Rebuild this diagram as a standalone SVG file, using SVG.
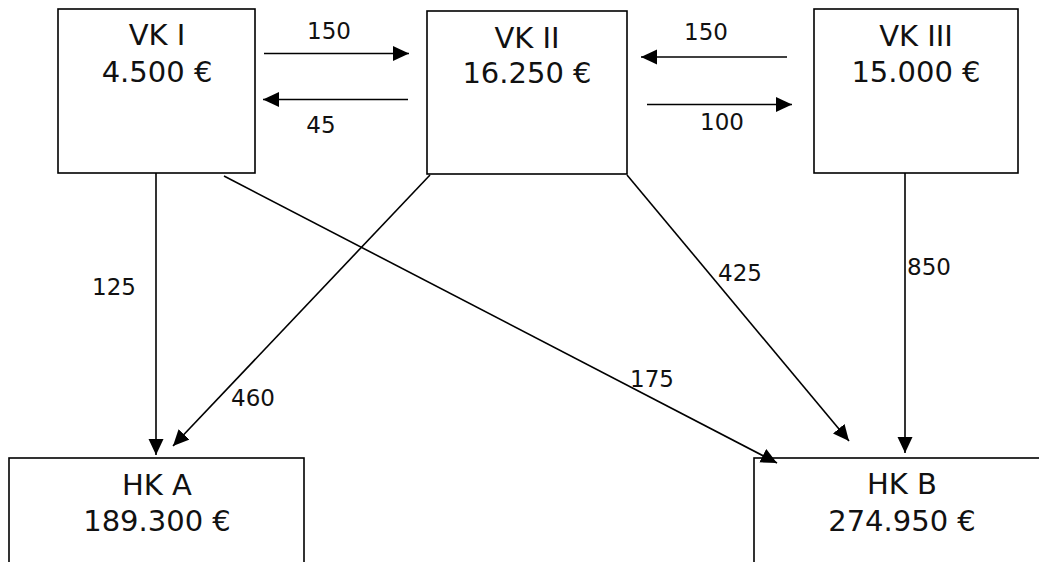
<svg xmlns="http://www.w3.org/2000/svg" width="1039" height="562" viewBox="0 0 1039 562">
<style>
.box{fill:#fff;stroke:#000;stroke-width:1.6}
.t{font-family:"DejaVu Sans","Verdana",sans-serif;font-size:29px;fill:#111;text-anchor:middle}
.l{font-family:"DejaVu Sans","Verdana",sans-serif;font-size:23px;fill:#111}
.c{stroke:#000;stroke-width:1.6;fill:none;marker-end:url(#ah)}
</style>
<defs>
<marker id="ah" markerUnits="userSpaceOnUse" markerWidth="17" markerHeight="16" refX="16" refY="7.5" orient="auto">
<path d="M0,0 L16,7.5 L0,15 z" fill="#000"/>
</marker>
</defs>
<rect width="1039" height="562" fill="#fff"/>
<g id="vk1"><rect class="box" x="58" y="9" width="197" height="164"/><text class="t" x="157" y="45">VK I</text><text class="t" x="157" y="82">4.500 €</text></g>
<g id="vk2"><rect class="box" x="427" y="11" width="200" height="163"/><text class="t" x="527" y="48">VK II</text><text class="t" x="527" y="83">16.250 €</text></g>
<g id="vk3"><rect class="box" x="814" y="9" width="204" height="164"/><text class="t" x="916" y="46">VK III</text><text class="t" x="916" y="82">15.000 €</text></g>
<g id="hka"><rect class="box" x="9" y="458" width="295" height="120"/><text class="t" x="157" y="495">HK A</text><text class="t" x="157" y="531">189.300 €</text></g>
<g id="hkb"><rect class="box" x="754" y="458" width="300" height="120"/><text class="t" x="902" y="494">HK B</text><text class="t" x="902" y="531">274.950 €</text></g>
<g id="connectors">
<line class="c" x1="264" y1="53.5" x2="409" y2="53.5"/>
<line class="c" x1="408" y1="99.5" x2="263" y2="99.5"/>
<line class="c" x1="787" y1="57" x2="641" y2="57"/>
<line class="c" x1="647" y1="104.5" x2="792" y2="104.5"/>
<line class="c" x1="156" y1="173" x2="156" y2="455"/>
<line class="c" x1="430" y1="175" x2="173" y2="446"/>
<line class="c" x1="224" y1="176" x2="777" y2="463"/>
<line class="c" x1="627" y1="175" x2="849" y2="441"/>
<line class="c" x1="905" y1="173" x2="905" y2="453"/>
<text class="l" x="329" y="39" text-anchor="middle">150</text>
<text class="l" x="321" y="133" text-anchor="middle">45</text>
<text class="l" x="706" y="40" text-anchor="middle">150</text>
<text class="l" x="722" y="130" text-anchor="middle">100</text>
<text class="l" x="114" y="295" text-anchor="middle">125</text>
<text class="l" x="253" y="406" text-anchor="middle">460</text>
<text class="l" x="652" y="387" text-anchor="middle">175</text>
<text class="l" x="740" y="281" text-anchor="middle">425</text>
<text class="l" x="907" y="275">850</text>
</g>
</svg>
